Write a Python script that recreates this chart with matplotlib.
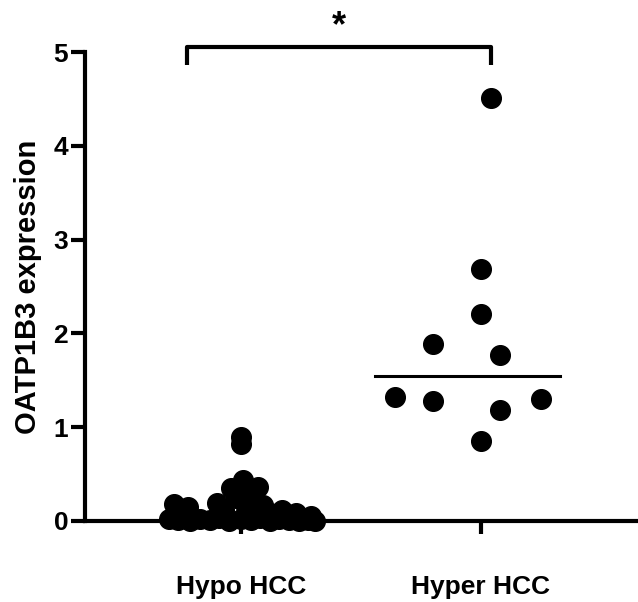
import matplotlib.pyplot as plt
import numpy as np

plt.rcParams['font.family'] = ['Liberation Sans', 'DejaVu Sans']
plt.rcParams['font.weight'] = 'bold'

groups = ['Hypo HCC', 'Hyper HCC']

# Hypo HCC: scatter offset from group centre, and value
hypo_dx = [0.00, 0.00, 0.01, -0.04, 0.07, 0.04, -0.02, -0.10, 0.09, -0.28, -0.22,
           0.17, 0.23, 0.29, -0.07, 0.02, 0.12,
           -0.30, -0.26, -0.21, -0.17, -0.13, -0.09, -0.05, 0.00, 0.04, 0.08,
           0.12, 0.16, 0.20, 0.24, 0.28, 0.31]
hypo_y = [0.90, 0.82, 0.44, 0.35, 0.36, 0.27, 0.24, 0.19, 0.17, 0.18, 0.15,
          0.12, 0.09, 0.05, 0.12, 0.15, 0.08,
          0.02, 0.01, 0.00, 0.02, 0.01, 0.03, 0.00, 0.02, 0.01, 0.03,
          0.00, 0.02, 0.01, 0.00, 0.01, 0.00]

hyper_dx = [0.04, 0.00, 0.00, -0.20, 0.08, -0.36, -0.20, 0.08, 0.25, 0.00]
hyper_y = [4.51, 2.69, 2.21, 1.89, 1.77, 1.32, 1.28, 1.18, 1.30, 0.85]
hyper_mean = 1.55

fig = plt.figure(figsize=(6.38, 6.02), dpi=100)
ax = fig.add_axes([0.133, 0.1346, 0.867, 0.779])

ax.scatter(np.array(hypo_dx), hypo_y, s=200, color='black', clip_on=False, zorder=3)
ax.scatter(1 + np.array(hyper_dx), hyper_y, s=200, color='black', clip_on=False, zorder=3)
ax.plot([1 - 0.44, 1 + 0.33], [hyper_mean, hyper_mean], color='black', lw=2.2)

ax.set_xlim(-0.65, 1.654)
ax.set_ylim(0, 5)
ax.set_xticks([0, 1])
ax.set_xticklabels(groups, fontsize=19, fontweight='bold')
ax.set_yticks([0, 1, 2, 3, 4, 5])
ax.set_yticklabels(['0', '1', '2', '3', '4', '5'], fontsize=19, fontweight='bold')
ax.tick_params(axis='x', length=9, width=3, pad=30)
ax.tick_params(axis='y', length=10, width=3, pad=2)
ax.set_ylabel('OATP1B3 expression', fontsize=21, fontweight='bold', labelpad=8)

for s in ['top', 'right']:
    ax.spines[s].set_visible(False)
for s in ['left', 'bottom']:
    ax.spines[s].set_linewidth(3)

# significance bracket
ax.plot([-0.225, -0.225, 1.04, 1.04], [4.86, 5.05, 5.05, 4.86], color='black', lw=3,
        clip_on=False, solid_capstyle='butt')
ax.text(0.41, 5.08, '*', ha='center', va='bottom', fontsize=26, fontweight='bold')

fig.savefig('out.png', dpi=100)
